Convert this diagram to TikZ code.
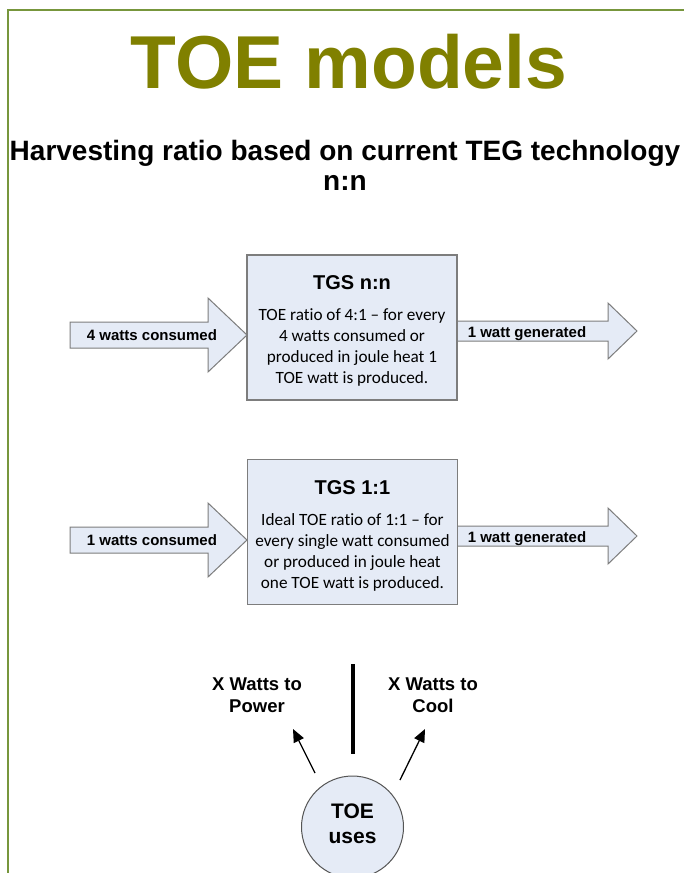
\documentclass[tikz,border=0pt]{standalone}
\usepackage{fontspec}
\setmainfont{Liberation Sans}
\newfontfamily\calib[Ligatures={NoCommon,NoContextual}]{Carlito}
\usetikzlibrary{arrows.meta}
\definecolor{titleolive}{RGB}{128,128,0}
\definecolor{framegreen}{RGB}{119,150,60}
\definecolor{boxblue}{RGB}{229,235,246}
\definecolor{boxgray}{RGB}{125,125,125}
\definecolor{circgray}{RGB}{85,85,85}
\begin{document}
\begin{tikzpicture}[x=1pt,y=-1pt,
  blockarrow/.style={draw=boxgray, fill=boxblue, line width=1pt, line join=miter},
  tgsbox/.style={draw=boxgray, fill=boxblue, line width=1.2pt, minimum width=210pt, minimum height=145pt, inner sep=0},
  lbl/.style={font=\bfseries\fontsize{15}{18}\selectfont, inner sep=0},
  boxtitle/.style={font=\bfseries\fontsize{20}{22}\selectfont, inner sep=0},
  body/.style={font=\calib\fontsize{17.2}{21}\selectfont, align=center, inner sep=0},
  uselbl/.style={font=\bfseries\fontsize{18.5}{22}\selectfont, align=center, inner sep=0},
  thinarrow/.style={line width=1.3pt, -{Triangle[length=13pt,width=11pt]}}
]
\useasboundingbox (0,0) rectangle (684,873);
\fill[white] (0,0) rectangle (684,873);

% frame
\draw[framegreen, line width=2pt] (686,10) -- (8,10) -- (8,876);

% titles
\node[font=\bfseries\fontsize{75}{80}\selectfont, text=titleolive, anchor=base, inner sep=0] (title) at (349,88) {TOE models};
\node[font=\bfseries\fontsize{28}{30}\selectfont, anchor=base, inner sep=0] (sub1) at (345,160) {Harvesting ratio based on current TEG technology};
\node[font=\bfseries\fontsize{28}{30}\selectfont, anchor=base, inner sep=0] (sub2) at (345,190) {n:n};

% row 1 block arrows
\draw[blockarrow] (70,322) -- (208,322) -- (208,298) -- (247,335) -- (208,372) -- (208,348) -- (70,348) -- cycle;
\draw[blockarrow] (450,321) -- (608,321) -- (608,303) -- (637,331) -- (608,359) -- (608,341) -- (450,341);
\node[tgsbox] (b1) at (352,327.5) {};
\node[boxtitle, anchor=base] (b1t) at (352,289) {TGS n:n};
\node[body] (b1b) at (352,347) {TOE ratio of 4:1 – for every\\4 watts consumed or\\produced in joule heat 1\\TOE watt is produced.};
\node[lbl, anchor=base] (in1) at (152,340) {4 watts consumed};
\node[lbl, anchor=base] (out1) at (527,337) {1 watt generated};

% row 2 block arrows
\draw[blockarrow] (70,527) -- (208,527) -- (208,503) -- (247,540) -- (208,577) -- (208,553) -- (70,553) -- cycle;
\draw[blockarrow] (450,526) -- (608,526) -- (608,508) -- (637,536) -- (608,564) -- (608,546) -- (450,546);
\node[tgsbox] (b2) at (352.5,532) {};
\node[boxtitle, anchor=base] (b2t) at (352.5,494) {TGS 1:1};
\node[body] (b2b) at (352.5,552) {Ideal TOE ratio of 1:1 – for\\every single watt consumed\\or produced in joule heat\\one TOE watt is produced.};
\node[lbl, anchor=base] (in2) at (152,545) {1 watts consumed};
\node[lbl, anchor=base] (out2) at (527,542) {1 watt generated};

% TOE uses
\coordinate (vtop) at (353,664);
\coordinate (vbot) at (353,754);
\draw[line width=4pt] (vtop) -- (vbot);
\node[uselbl] (power) at (257,695) {X Watts to\\Power};
\node[uselbl] (cool) at (433,695) {X Watts to\\Cool};
\coordinate (pl0) at (315,773);
\coordinate (pl1) at (293,729);
\coordinate (pr0) at (400,780);
\coordinate (pr1) at (425,729);
\draw[thinarrow] (pl0) -- (pl1);
\draw[thinarrow] (pr0) -- (pr1);
\node[circle, draw=circgray, fill=boxblue, line width=1pt, minimum size=102pt, inner sep=0] (toe) at (352.5,827) {};
\node[font=\bfseries\fontsize{21}{25}\selectfont, align=center, inner sep=0] (toet) at (352.5,824) {TOE\\uses};
\end{tikzpicture}
\end{document}
